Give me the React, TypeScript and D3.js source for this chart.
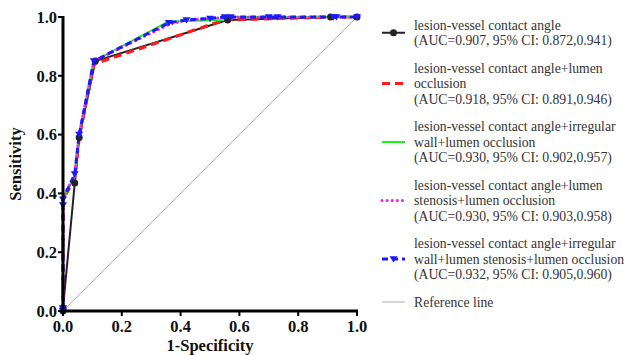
import React from "react";
import * as d3 from "d3";

type Pt = [number, number];

// ROC points: [1-specificity, sensitivity]
const contactAngle: Pt[] = [
  [0, 0], [0, 0.01], [0.04, 0.435], [0.055, 0.59], [0.11, 0.85], [0.56, 0.99], [0.91, 1.0], [1, 1],
];
const plusOcclusion: Pt[] = [
  [0, 0], [0, 0.38], [0.04, 0.45], [0.055, 0.59], [0.105, 0.84], [0.55, 0.99], [0.91, 1.0], [1, 1],
];
const plusWallOcclusion: Pt[] = [
  [0, 0], [0, 0.36], [0, 0.38], [0.04, 0.46], [0.055, 0.6], [0.105, 0.85], [0.36, 0.985], [0.55, 0.99],
  [0.57, 1.0], [0.73, 1.0], [0.93, 1.0], [1, 1],
];
const plusStenosisOcclusion: Pt[] = [
  [0, 0], [0, 0.37], [0, 0.39], [0.04, 0.46], [0.055, 0.6], [0.105, 0.85], [0.36, 0.975], [0.42, 0.99],
  [0.5, 0.995], [0.57, 1.0], [0.73, 1.0], [0.93, 1.0], [1, 1],
];
const allCombined: Pt[] = [
  [0, 0], [0, 0.01], [0, 0.36], [0, 0.38], [0.04, 0.466], [0.055, 0.6], [0.105, 0.85], [0.36, 0.98],
  [0.42, 0.99], [0.5, 0.995], [0.55, 1.0], [0.57, 1.0], [0.7, 1.0], [0.73, 1.0], [0.92, 1.0], [0.93, 1.0], [1, 1],
];

const ticks = [0, 0.2, 0.4, 0.6, 0.8, 1.0];

const legendItems = [
  { lines: ["lesion-vessel contact angle", "(AUC=0.907, 95% CI: 0.872,0.941)"], key: "black" },
  { lines: ["lesion-vessel contact angle+lumen", "occlusion", "(AUC=0.918, 95% CI: 0.891,0.946)"], key: "red" },
  { lines: ["lesion-vessel contact angle+irregular", "wall+lumen occlusion", "(AUC=0.930, 95% CI: 0.902,0.957)"], key: "green" },
  { lines: ["lesion-vessel contact angle+lumen", "stenosis+lumen occlusion", "(AUC=0.930, 95% CI: 0.903,0.958)"], key: "magenta" },
  { lines: ["lesion-vessel contact angle+irregular", "wall+lumen stenosis+lumen occlusion", "(AUC=0.932, 95% CI: 0.905,0.960)"], key: "blue" },
  { lines: ["Reference line"], key: "ref" },
];

const styles: Record<string, { color: string; width: number; dash?: string; cap?: string }> = {
  black: { color: "#222", width: 2 },
  red: { color: "#ff1a1a", width: 3.2, dash: "8,5" },
  green: { color: "#22ee22", width: 2 },
  magenta: { color: "#ee22ee", width: 3, dash: "0.1,5", cap: "round" },
  blue: { color: "#1a1aff", width: 3, dash: "6,4" },
  ref: { color: "#b0b0b0", width: 1 },
};

const serif = "Liberation Serif, Times New Roman, DejaVu Serif, serif";

export default function App() {
  const W = 629;
  const H = 355;
  const left = 63, right = 357, top = 17, bottom = 311;
  const x = d3.scaleLinear().domain([0, 1]).range([left, right]);
  const y = d3.scaleLinear().domain([0, 1]).range([bottom, top]);
  const line = d3.line<Pt>().x((d) => x(d[0])).y((d) => y(d[1]));

  const series: [string, Pt[]][] = [
    ["black", contactAngle],
    ["red", plusOcclusion],
    ["green", plusWallOcclusion],
    ["magenta", plusStenosisOcclusion],
    ["blue", allCombined],
  ];

  const tri = (cx: number, cy: number, s = 4) =>
    `M${cx - s},${cy - s * 0.7}L${cx + s},${cy - s * 0.7}L${cx},${cy + s * 0.9}Z`;

  // legend layout
  const lineH = 15.5;
  const gap = 27.5;
  let cursor = 25;
  const legendLayout = legendItems.map((item) => {
    const startY = cursor;
    cursor += (item.lines.length - 1) * lineH + gap;
    return { ...item, startY };
  });

  const bold = { fontFamily: serif, fontWeight: 700, fontSize: 16.5 } as React.CSSProperties;

  return (
    <svg width={W} height={H} style={{ position: "absolute", left: 0, top: 0, background: "#fff" }}>
      {/* reference diagonal */}
      <line x1={x(0)} y1={y(0)} x2={x(1)} y2={y(1)} stroke={styles.ref.color} strokeWidth={1} />

      {series.map(([key, pts]) => {
        const s = styles[key];
        return (
          <path
            key={key}
            d={line(pts) || ""}
            fill="none"
            stroke={s.color}
            strokeWidth={s.width}
            strokeDasharray={s.dash}
            strokeLinecap={(s.cap as any) || "butt"}
            strokeLinejoin="round"
          />
        );
      })}

      {contactAngle.map((d, i) => (
        <circle key={"c" + i} cx={x(d[0])} cy={y(d[1])} r={3.5} fill="#222" />
      ))}
      {allCombined.map((d, i) => (
        <path key={"t" + i} d={tri(x(d[0]), y(d[1]))} fill="#1a1aff" />
      ))}

      {/* axes */}
      <line x1={left} y1={top - 1} x2={left} y2={bottom + 1.5} stroke="#000" strokeWidth={3} />
      <line x1={left - 1.5} y1={bottom} x2={right + 1} y2={bottom} stroke="#000" strokeWidth={3} />
      {ticks.map((t) => (
        <g key={"y" + t}>
          <line x1={left - 5} x2={left} y1={y(t)} y2={y(t)} stroke="#000" strokeWidth={2} />
          <text x={left - 6} y={y(t)} dy="0.35em" textAnchor="end" style={bold} fill="#111">
            {t.toFixed(1)}
          </text>
        </g>
      ))}
      {ticks.map((t) => (
        <g key={"x" + t}>
          <line x1={x(t)} x2={x(t)} y1={bottom} y2={bottom + 5} stroke="#000" strokeWidth={2} />
          <text x={x(t)} y={bottom + 21} textAnchor="middle" style={bold} fill="#111">
            {t.toFixed(1)}
          </text>
        </g>
      ))}
      <text x={(left + right) / 2} y={bottom + 40} textAnchor="middle" style={bold} fill="#111">
        1-Specificity
      </text>
      <text
        transform={`translate(21,${(top + bottom) / 2}) rotate(-90)`}
        textAnchor="middle"
        style={bold}
        fill="#111"
      >
        Sensitivity
      </text>

      {/* legend */}
      {legendLayout.map((item) => {
        const s = styles[item.key];
        const n = item.lines.length;
        const symY = item.startY + ((n - 1) * lineH) / 2;
        const x0 = 382, x1 = 405;
        return (
          <g key={item.key}>
            <line
              x1={x0}
              x2={x1}
              y1={symY}
              y2={symY}
              stroke={s.color}
              strokeWidth={s.width}
              strokeDasharray={s.dash}
              strokeLinecap={(s.cap as any) || "butt"}
            />
            {item.key === "black" && <circle cx={(x0 + x1) / 2} cy={symY} r={3.5} fill="#222" />}
            {item.key === "blue" && <path d={tri((x0 + x1) / 2, symY)} fill="#1a1aff" />}
            {item.lines.map((l, i) => (
              <text
                key={i}
                x={414}
                y={item.startY + i * lineH}
                dy="0.35em"
                style={{ fontFamily: serif, fontSize: 13.7 }}
                fill="#333"
              >
                {l}
              </text>
            ))}
          </g>
        );
      })}
    </svg>
  );
}
